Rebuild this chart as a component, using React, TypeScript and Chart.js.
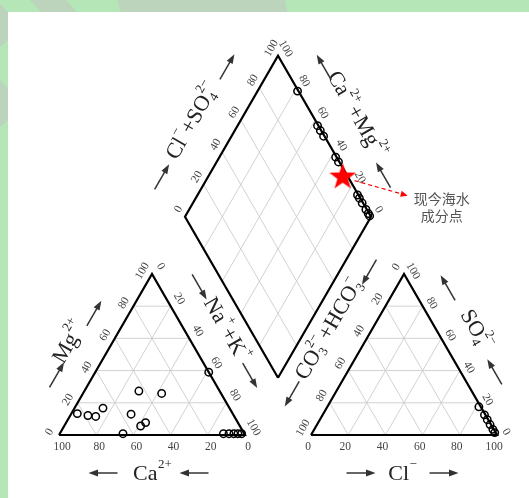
import React, { useEffect, useRef } from 'react';
import { Chart, registerables } from 'chart.js';

Chart.register(...registerables);

// ---------------- data ----------------
const TICK_VALUES = [0, 20, 40, 60, 80, 100];
const GRID_STEPS = [20, 40, 60, 80];

// cation triangle samples (meq %)
const cationCa = [83.5, 78.4, 74.5, 68.0, 65.2, 54.8, 43.4, 53.3, 49.6, 31.9, 0.0, 11.2, 8.2, 5.6, 3.4, 1.4];
const cationMg = [13.3, 12.1, 11.5, 16.7, 0.8, 12.9, 27.3, 5.6, 7.7, 25.8, 39.0, 0.8, 0.8, 0.8, 0.8, 0.8];
const cationNaK = [3.2, 9.5, 14.0, 15.3, 34.0, 32.3, 29.3, 41.1, 42.7, 42.3, 61.0, 88.0, 91.0, 93.6, 95.8, 97.8];

// anion triangle samples (meq %)
const anionCl = [81.5, 87.0, 90.0, 93.0, 96.0, 98.0];
const anionSO4 = [17.5, 12.5, 9.5, 6.5, 3.5, 1.5];
const anionHCO3 = [1.0, 0.5, 0.5, 0.5, 0.5, 0.5];

// diamond samples (meq %)
const diamondCaMg = [78.5, 57.0, 54.0, 50.5, 37.5, 34.5, 14.0, 12.0, 9.0, 5.0, 2.5, 1.0];
const diamondClSO4 = [99.5, 99.5, 99.5, 99.5, 99.5, 99.5, 99.5, 99.5, 99.5, 99.5, 99.5, 99.5];

// present-day seawater composition
const seawaterCaMg = [28.0];
const seawaterClSO4 = [97.5];

const seawaterLabel = ['现今海水', '成分点'];

// ---------------- geometry (layout) ----------------
const H = Math.sqrt(3) / 2;
const GAP = 35.5;
const K = 1.86; // px per unit
const OX = 59;
const OY = 435;
const CW = 529;
const CH = 498;
const X_MIN = -OX / K;
const X_MAX = X_MIN + CW / K;
const Y_MAX = OY / K;
const Y_MIN = Y_MAX - CH / K;

type P = { x: number; y: number };
const L0: P = { x: 0, y: 0 };
const L1: P = { x: 100, y: 0 };
const LA: P = { x: 50, y: 100 * H };
const R0: P = { x: 100 + GAP, y: 0 };
const R1: P = { x: 200 + GAP, y: 0 };
const RA: P = { x: 150 + GAP, y: 100 * H };
const DB: P = { x: 100 + GAP / 2, y: GAP * H };
const DL: P = { x: DB.x - 50, y: DB.y + 100 * H };
const DR: P = { x: DB.x + 50, y: DB.y + 100 * H };
const DT: P = { x: DB.x, y: DB.y + 200 * H };

const lerp = (a: P, b: P, t: number): P => ({ x: a.x + (b.x - a.x) * t, y: a.y + (b.y - a.y) * t });
const cationPos = (na: number, mg: number): P => ({ x: na + mg / 2, y: mg * H });
const anionPos = (cl: number, so4: number): P => ({ x: 100 + GAP + cl + so4 / 2, y: so4 * H });
const diamondPos = (camg: number, clso4: number): P => ({
  x: DB.x + (clso4 - camg) / 2,
  y: DB.y + (camg + clso4) * H,
});

const BREAK: P = { x: NaN, y: NaN };

function gridData(): P[] {
  const pts: P[] = [];
  const seg = (a: P, b: P) => { pts.push(a, b, BREAK); };
  for (const off of [0, 100 + GAP]) {
    for (const k of GRID_STEPS) {
      seg({ x: off + k / 2, y: k * H }, { x: off + 100 - k / 2, y: k * H });
      seg({ x: off + k, y: 0 }, { x: off + k + (100 - k) / 2, y: (100 - k) * H });
      seg({ x: off + 100 - k, y: 0 }, { x: off + (100 - k) / 2, y: (100 - k) * H });
    }
  }
  for (const k of GRID_STEPS) {
    seg(diamondPos(k, 0), diamondPos(k, 100));
    seg(diamondPos(0, k), diamondPos(100, k));
  }
  return pts;
}

function outlineData(): P[] {
  return [L0, L1, LA, L0, BREAK, R0, R1, RA, R0, BREAK, DB, DR, DT, DL, DB];
}

function makeStar(r: number): HTMLCanvasElement {
  const c = document.createElement('canvas');
  const s = Math.ceil(r * 2 + 4);
  c.width = s;
  c.height = s;
  const g = c.getContext('2d')!;
  g.translate(s / 2, s / 2 + r * 0.1);
  g.beginPath();
  for (let i = 0; i < 10; i++) {
    const rad = i % 2 === 0 ? r : r * 0.4;
    const a = -Math.PI / 2 + (i * Math.PI) / 5;
    g.lineTo(rad * Math.cos(a), rad * Math.sin(a));
  }
  g.closePath();
  g.fillStyle = '#ff0000';
  g.fill();
  return c;
}

// ---------------- text helpers ----------------
type Part = { t: string; sup?: string; sub?: string };
const SERIF = '"Liberation Serif", "DejaVu Serif", serif';

function drawRich(ctx: CanvasRenderingContext2D, parts: Part[], x: number, y: number, angle: number, size: number, color: string) {
  const base = `${size}px ${SERIF}`;
  const smallSize = Math.round(size * 0.6);
  const small = `${smallSize}px ${SERIF}`;
  const widths = parts.map((p) => {
    ctx.font = base;
    const wt = ctx.measureText(p.t).width;
    ctx.font = small;
    const ws = Math.max(p.sup ? ctx.measureText(p.sup).width : 0, p.sub ? ctx.measureText(p.sub).width : 0);
    return { wt, ws: ws ? ws + 1.5 : 0 };
  });
  const total = widths.reduce((s, w) => s + w.wt + w.ws, 0);
  ctx.save();
  ctx.translate(x, y);
  ctx.rotate(angle);
  ctx.fillStyle = color;
  ctx.textBaseline = 'middle';
  ctx.textAlign = 'left';
  let cx = -total / 2;
  parts.forEach((p, i) => {
    ctx.font = base;
    ctx.fillText(p.t, cx, 0);
    cx += widths[i].wt;
    ctx.font = small;
    if (p.sup) ctx.fillText(p.sup, cx + 0.5, -size * 0.42);
    if (p.sub) ctx.fillText(p.sub, cx + 0.5, size * 0.3);
    cx += widths[i].ws;
  });
  ctx.restore();
}

function drawArrow(ctx: CanvasRenderingContext2D, cx: number, cy: number, ux: number, uy: number, len: number, color: string) {
  const hx = cx + (ux * len) / 2;
  const hy = cy + (uy * len) / 2;
  const tx = cx - (ux * len) / 2;
  const ty = cy - (uy * len) / 2;
  const hl = 9.5;
  const hw = 3.4;
  ctx.save();
  ctx.strokeStyle = color;
  ctx.fillStyle = color;
  ctx.lineWidth = 1.5;
  ctx.beginPath();
  ctx.moveTo(tx, ty);
  ctx.lineTo(hx - ux * (hl - 1), hy - uy * (hl - 1));
  ctx.stroke();
  ctx.beginPath();
  ctx.moveTo(hx, hy);
  ctx.lineTo(hx - ux * hl - uy * hw, hy - uy * hl + ux * hw);
  ctx.lineTo(hx - ux * hl + uy * hw, hy - uy * hl - ux * hw);
  ctx.closePath();
  ctx.fill();
  ctx.restore();
}

const MINUS = '\u2212';

type SideLabel = {
  from: P; to: P; sign: 1 | -1; rot: number;
  parts: Part[]; along: number; normal: number;
  arrows: [number, number, number][];
};

const titles: SideLabel[] = [
  { from: L0, to: LA, sign: 1, rot: -60, parts: [{ t: 'Mg', sup: '2+' }], along: 86, normal: 37, arrows: [[51, 32, 1], [123, 30.5, 1]] },
  { from: LA, to: L1, sign: 1, rot: 60, parts: [{ t: 'Na', sup: '+' }, { t: '+K', sup: '+' }], along: 86, normal: 36, arrows: [[35, 34.5, 1], [137, 34, 1]] },
  { from: L0, to: L1, sign: -1, rot: 0, parts: [{ t: 'Ca', sup: '2+' }], along: 94, normal: 39, arrows: [[44, 38, -1], [135, 38, -1]] },
  { from: R0, to: R1, sign: -1, rot: 0, parts: [{ t: 'Cl', sup: MINUS }], along: 92, normal: 39, arrows: [[50, 38, 1], [133, 38, 1]] },
  { from: R0, to: RA, sign: 1, rot: -60, parts: [{ t: 'CO', sub: '3', sup: '2' + MINUS }, { t: '+HCO', sub: '3', sup: MINUS }], along: 101, normal: 37, arrows: [[26, 37, -1], [170, 31, -1]] },
  { from: R1, to: RA, sign: -1, rot: 60, parts: [{ t: 'SO', sub: '4', sup: '2' + MINUS }], along: 101, normal: 34, arrows: [[56, 29.5, 1], [152, 31, 1]] },
  { from: DL, to: DT, sign: 1, rot: -60, parts: [{ t: 'Cl', sup: MINUS }, { t: '+SO', sub: '4', sup: '2' + MINUS }], along: 87, normal: 41, arrows: [[23, 40, 1], [151, 38.5, 1]] },
  { from: DR, to: DT, sign: -1, rot: 60, parts: [{ t: 'Ca', sup: '2+' }, { t: '+Mg', sup: '2+' }], along: 95, normal: 38, arrows: [[30, 31.5, 1], [153, 34, 1]] },
];

type TickSide = { from: P; to: P; dx: number; dy: number; rot: number };
const tickSides: TickSide[] = [
  { from: L1, to: L0, dx: 3, dy: 12, rot: 0 },
  { from: L0, to: LA, dx: -9.5, dy: -3, rot: -60 },
  { from: LA, to: L1, dx: 8.5, dy: -7.5, rot: 60 },
  { from: R0, to: R1, dx: -3, dy: 12, rot: 0 },
  { from: RA, to: R0, dx: -7.8, dy: -7, rot: -60 },
  { from: R1, to: RA, dx: 9, dy: -3, rot: 60 },
  { from: DL, to: DT, dx: -6.5, dy: -7.5, rot: -60 },
  { from: DR, to: DT, dx: 7.5, dy: -7, rot: 60 },
];

const bgPlugin = {
  id: 'bg',
  beforeDraw(chart: Chart) {
    const ctx = chart.ctx;
    ctx.save();
    ctx.fillStyle = '#b4e6b8';
    ctx.fillRect(0, 0, CW, CH);
    ctx.fillStyle = '#bcd4bc';
    const polys: number[][] = [
      [30, 0, 66, 0, 77, 12, 41, 12],
      [117, 0, 285, 0, 287, 12, 121, 12],
      [0, 4, 8, 12, 8, 40, 0, 47],
      [0, 80, 8, 88, 8, 120, 0, 127],
    ];
    for (const p of polys) {
      ctx.beginPath();
      ctx.moveTo(p[0], p[1]);
      for (let i = 2; i < p.length; i += 2) ctx.lineTo(p[i], p[i + 1]);
      ctx.closePath();
      ctx.fill();
    }
    ctx.fillStyle = '#ffffff';
    ctx.fillRect(8, 12, CW - 8, CH - 12);
    ctx.restore();
  },
};

const labelPlugin = {
  id: 'labels',
  afterDatasetsDraw(chart: Chart) {
    const ctx = chart.ctx;
    const sx = chart.scales.x;
    const sy = chart.scales.y;
    const toPx = (p: P) => ({ x: sx.getPixelForValue(p.x), y: sy.getPixelForValue(p.y) });

    // tick labels
    ctx.save();
    ctx.fillStyle = '#444';
    ctx.font = `11.5px ${SERIF}`;
    ctx.textAlign = 'center';
    ctx.textBaseline = 'middle';
    for (const s of tickSides) {
      for (const v of TICK_VALUES) {
        const q = toPx(lerp(s.from, s.to, v / 100));
        ctx.save();
        ctx.translate(q.x + s.dx, q.y + s.dy);
        ctx.rotate((s.rot * Math.PI) / 180);
        ctx.fillText(String(v), 0, 0);
        ctx.restore();
      }
    }
    ctx.restore();

    // axis titles and arrows
    for (const t of titles) {
      const a = toPx(t.from);
      const b = toPx(t.to);
      const len = Math.hypot(b.x - a.x, b.y - a.y);
      const dx = (b.x - a.x) / len;
      const dy = (b.y - a.y) / len;
      const nx = t.sign * dy;
      const ny = -t.sign * dx;
      const cx = a.x + dx * t.along + nx * t.normal;
      const cy = a.y + dy * t.along + ny * t.normal;
      drawRich(ctx, t.parts, cx, cy, (t.rot * Math.PI) / 180, 22, '#222');
      for (const [al, no, dir] of t.arrows) {
        const ax = a.x + dx * al + nx * no;
        const ay = a.y + dy * al + ny * no;
        drawArrow(ctx, ax, ay, dx * dir, dy * dir, 29, '#333');
      }
    }

    // seawater annotation
    const s = toPx(diamondPos(seawaterCaMg[0], seawaterClSO4[0]));
    const x0 = s.x + 12;
    const y0 = s.y + 5;
    const x1 = s.x + 65;
    const y1 = s.y + 20;
    const l = Math.hypot(x1 - x0, y1 - y0);
    const ux = (x1 - x0) / l;
    const uy = (y1 - y0) / l;
    ctx.save();
    ctx.strokeStyle = '#ff0000';
    ctx.fillStyle = '#ff0000';
    ctx.lineWidth = 1.2;
    ctx.setLineDash([4, 3]);
    ctx.beginPath();
    ctx.moveTo(x0, y0);
    ctx.lineTo(x1 - ux * 5, y1 - uy * 5);
    ctx.stroke();
    ctx.setLineDash([]);
    ctx.beginPath();
    ctx.moveTo(x1, y1);
    ctx.lineTo(x1 - ux * 7 - uy * 3, y1 - uy * 7 + ux * 3);
    ctx.lineTo(x1 - ux * 7 + uy * 3, y1 - uy * 7 - ux * 3);
    ctx.closePath();
    ctx.fill();
    ctx.fillStyle = '#555';
    ctx.font = '14px "Noto Sans CJK SC", sans-serif';
    ctx.textAlign = 'center';
    ctx.textBaseline = 'middle';
    ctx.fillText(seawaterLabel[0], s.x + 99, s.y + 23);
    ctx.fillText(seawaterLabel[1], s.x + 99, s.y + 40);
    ctx.restore();
  },
};

export default function App() {
  const ref = useRef<HTMLCanvasElement>(null);
  useEffect(() => {
    const canvas = ref.current;
    if (!canvas) return;
    const star = makeStar(14);
    const cationPts = cationNaK.map((na, i) => cationPos(na, cationMg[i]));
    const anionPts = anionCl.map((cl, i) => anionPos(cl, anionSO4[i]));
    const diamondPts = diamondCaMg.map((v, i) => diamondPos(v, diamondClSO4[i]));
    const seaPts = seawaterCaMg.map((v, i) => diamondPos(v, seawaterClSO4[i]));
    const pointStyle = {
      type: 'scatter' as const,
      showLine: false,
      pointRadius: 3.7,
      pointBorderWidth: 1.5,
      pointBorderColor: '#000',
      pointBackgroundColor: 'rgba(255,255,255,0)',
      clip: false as const,
      order: 1,
    };
    const chart = new Chart(canvas, {
      type: 'scatter',
      data: {
        datasets: [
          { label: 'seawater', data: seaPts, pointStyle: star as any, pointRadius: 14, showLine: false, clip: false, order: 0 } as any,
          { label: 'cation', data: cationPts, ...pointStyle },
          { label: 'anion', data: anionPts, ...pointStyle },
          { label: 'diamond', data: diamondPts, ...pointStyle },
          {
            label: 'outline', data: outlineData(), showLine: true, pointRadius: 0, borderColor: '#000',
            borderWidth: 2.2, borderJoinStyle: 'miter', spanGaps: false, clip: false, order: 2, fill: false,
          } as any,
          {
            label: 'grid', data: gridData(), showLine: true, pointRadius: 0, borderColor: '#cdcdcd',
            borderWidth: 0.9, spanGaps: false, clip: false, order: 3, fill: false,
          } as any,
        ],
      },
      options: {
        animation: false,
        responsive: false,
        maintainAspectRatio: false,
        devicePixelRatio: 1,
        events: [],
        layout: { padding: 0, autoPadding: false },
        plugins: { legend: { display: false }, tooltip: { enabled: false } },
        scales: {
          x: { type: 'linear', min: X_MIN, max: X_MAX, display: false, bounds: 'data' },
          y: { type: 'linear', min: Y_MIN, max: Y_MAX, display: false, bounds: 'data' },
        },
      },
      plugins: [bgPlugin, labelPlugin],
    });
    return () => chart.destroy();
  }, []);
  return (
    <div style={{ position: 'absolute', left: 0, top: 0, width: CW, height: CH }}>
      <canvas ref={ref} width={CW} height={CH} style={{ display: 'block', width: CW, height: CH }} />
    </div>
  );
}
